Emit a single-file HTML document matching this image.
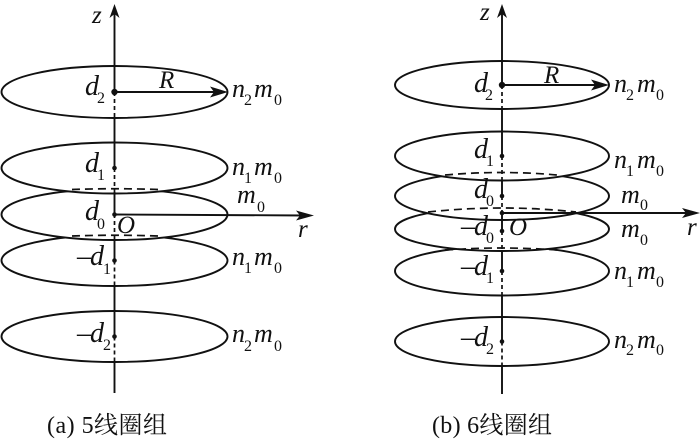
<!DOCTYPE html>
<html><head><meta charset="utf-8"><style>
html,body{margin:0;padding:0;background:#fff}
svg{display:block}
text{font-family:"Liberation Serif","Noto Serif CJK SC",serif;fill:#111}
.i{font-style:italic;font-size:28px}
.r{font-style:italic;font-size:25px}
.n{font-style:italic;font-size:26px}
.s{font-size:16px}
.c{font-size:24px}
.e{fill:#fff;stroke:#111;stroke-width:1.9}
.h{fill:none;stroke:#111;stroke-width:1.7;stroke-dasharray:8 5}
.a{fill:none;stroke:#111;stroke-width:1.9}
.d{fill:none;stroke:#111;stroke-width:1.7;stroke-dasharray:4 3}
</style></head><body>
<svg width="700" height="445" viewBox="0 0 700 445" xmlns="http://www.w3.org/2000/svg">
<!-- Left group -->
<ellipse class="e" cx="114.5" cy="336.5" rx="113" ry="25.5"/>
<ellipse class="e" cx="114.5" cy="260.5" rx="113" ry="25.5"/>
<ellipse class="e" cx="114.5" cy="214.5" rx="113" ry="25.5"/>
<ellipse class="e" cx="114.5" cy="168" rx="113" ry="25.5"/>
<ellipse class="e" cx="114.5" cy="92" rx="113" ry="26"/>
<path class="h" d="M72 189.5Q114.5 188 158 189.5"/>
<path class="h" d="M72 236Q114.5 234.5 158 236"/>
<path class="a" d="M114.5 12V92M114.5 118V168M114.5 192V214M114.5 240V260.5M114.5 286V336.5M114.5 362V393"/>
<path class="d" d="M114.5 92V118M114.5 168V192M114.5 214V240M114.5 260.5V286M114.5 336.5V362"/>
<path class="a" d="M114.5 92H220M114.5 214.5L305 215.5"/>
<path d="M114.5 4L119.5 18L114.5 14L109.5 18Z" fill="#111"/>
<path d="M228 92L210 86.5L214 92L210 97.5Z" fill="#111"/>
<path d="M314 215.5L296 210.5L300 215.5L296 220.5Z" fill="#111"/>
<circle cx="114.5" cy="92" r="3.2" fill="#111"/>
<circle cx="114.5" cy="168" r="2.3" fill="#111"/>
<circle cx="114.5" cy="214.5" r="2.3" fill="#111"/>
<circle cx="114.5" cy="260.5" r="2.3" fill="#111"/>
<circle cx="114.5" cy="336.5" r="2.3" fill="#111"/>
<text class="r" x="92" y="23">z</text>
<text class="i" x="85" y="95">d</text><text class="s" x="97" y="103">2</text>
<text class="r" x="159" y="88">R</text>
<text class="n" x="232" y="97">n</text><text class="s" x="244" y="105">2</text><text class="n" x="254" y="97">m</text><text class="s" x="274" y="105">0</text>
<text class="i" x="85" y="172">d</text><text class="s" x="97" y="180">1</text>
<text class="n" x="232" y="175">n</text><text class="s" x="244" y="183">1</text><text class="n" x="254" y="175">m</text><text class="s" x="274" y="183">0</text>
<text class="n" x="237" y="203">m</text><text class="s" x="257" y="212">0</text>
<text class="i" x="85" y="220">d</text><text class="s" x="97" y="229">0</text>
<text class="r" x="117" y="233">O</text>
<text class="r" x="298" y="237">r</text>
<text class="i" x="77" y="265" textLength="27">&#8211;d</text><text class="s" x="103" y="274">1</text>
<text class="n" x="232" y="265">n</text><text class="s" x="244" y="273">1</text><text class="n" x="254" y="265">m</text><text class="s" x="274" y="273">0</text>
<text class="i" x="77" y="342" textLength="27">&#8211;d</text><text class="s" x="103" y="350">2</text>
<text class="n" x="232" y="342">n</text><text class="s" x="244" y="351">2</text><text class="n" x="254" y="342">m</text><text class="s" x="274" y="351">0</text>
<text class="c" x="47" y="433" textLength="120">(a) 5线圈组</text>
<!-- Right group -->
<ellipse class="e" cx="502" cy="341.5" rx="107" ry="24.5"/>
<ellipse class="e" cx="502" cy="271" rx="107" ry="24.5"/>
<ellipse class="e" cx="502" cy="229" rx="107" ry="22"/>
<ellipse class="e" cx="502" cy="196" rx="107" ry="24"/>
<ellipse class="e" cx="502" cy="156" rx="107" ry="24.5"/>
<ellipse class="e" cx="502" cy="85" rx="107" ry="24"/>
<path class="h" d="M445 175Q502 170 557 175"/>
<path class="h" d="M428 212Q502 204 576 212"/>
<path class="h" d="M445 250Q502 246 557 250"/>
<path class="a" d="M502 12V85M502 109V156M502 180V196M502 213V231M502 251V271M502 295V341.5M502 366V394"/>
<path class="d" d="M502 85V109M502 156V180M502 196V213M502 231V251M502 271V295M502 341.5V366"/>
<path class="a" d="M502 85H600M502 213H692"/>
<path d="M502 4L507 18L502 14L497 18Z" fill="#111"/>
<path d="M609 85L591 79.5L595 85L591 90.5Z" fill="#111"/>
<path d="M700 213L682 208L686 213L682 218Z" fill="#111"/>
<circle cx="502" cy="85" r="3.2" fill="#111"/>
<circle cx="502" cy="156" r="2.3" fill="#111"/>
<circle cx="502" cy="196" r="2.3" fill="#111"/>
<circle cx="502" cy="213" r="2.3" fill="#111"/>
<circle cx="502" cy="231" r="2.3" fill="#111"/>
<circle cx="502" cy="271" r="2.3" fill="#111"/>
<circle cx="502" cy="341.5" r="2.3" fill="#111"/>
<text class="r" x="480" y="20">z</text>
<text class="i" x="474" y="92">d</text><text class="s" x="485" y="100">2</text>
<text class="r" x="544" y="83">R</text>
<text class="n" x="614" y="92">n</text><text class="s" x="626" y="100">2</text><text class="n" x="637" y="92">m</text><text class="s" x="656" y="100">0</text>
<text class="i" x="474" y="158">d</text><text class="s" x="486" y="166">1</text>
<text class="n" x="614" y="168">n</text><text class="s" x="626" y="176">1</text><text class="n" x="637" y="168">m</text><text class="s" x="656" y="176">0</text>
<text class="i" x="474" y="198">d</text><text class="s" x="486" y="206">0</text>
<text class="n" x="621" y="203">m</text><text class="s" x="640" y="210">0</text>
<text class="i" x="461" y="235" textLength="27">&#8211;d</text><text class="s" x="486" y="243">0</text>
<text class="r" x="509" y="235">O</text>
<text class="n" x="621" y="237">m</text><text class="s" x="640" y="245">0</text>
<text class="r" x="687" y="235">r</text>
<text class="i" x="461" y="275" textLength="27">&#8211;d</text><text class="s" x="486" y="283">1</text>
<text class="n" x="614" y="279">n</text><text class="s" x="626" y="287">1</text><text class="n" x="637" y="279">m</text><text class="s" x="656" y="287">0</text>
<text class="i" x="461" y="346" textLength="27">&#8211;d</text><text class="s" x="486" y="354">2</text>
<text class="n" x="614" y="348">n</text><text class="s" x="626" y="355">2</text><text class="n" x="637" y="348">m</text><text class="s" x="656" y="355">0</text>
<text class="c" x="432" y="433" textLength="120">(b) 6线圈组</text>
</svg>
</body></html>
